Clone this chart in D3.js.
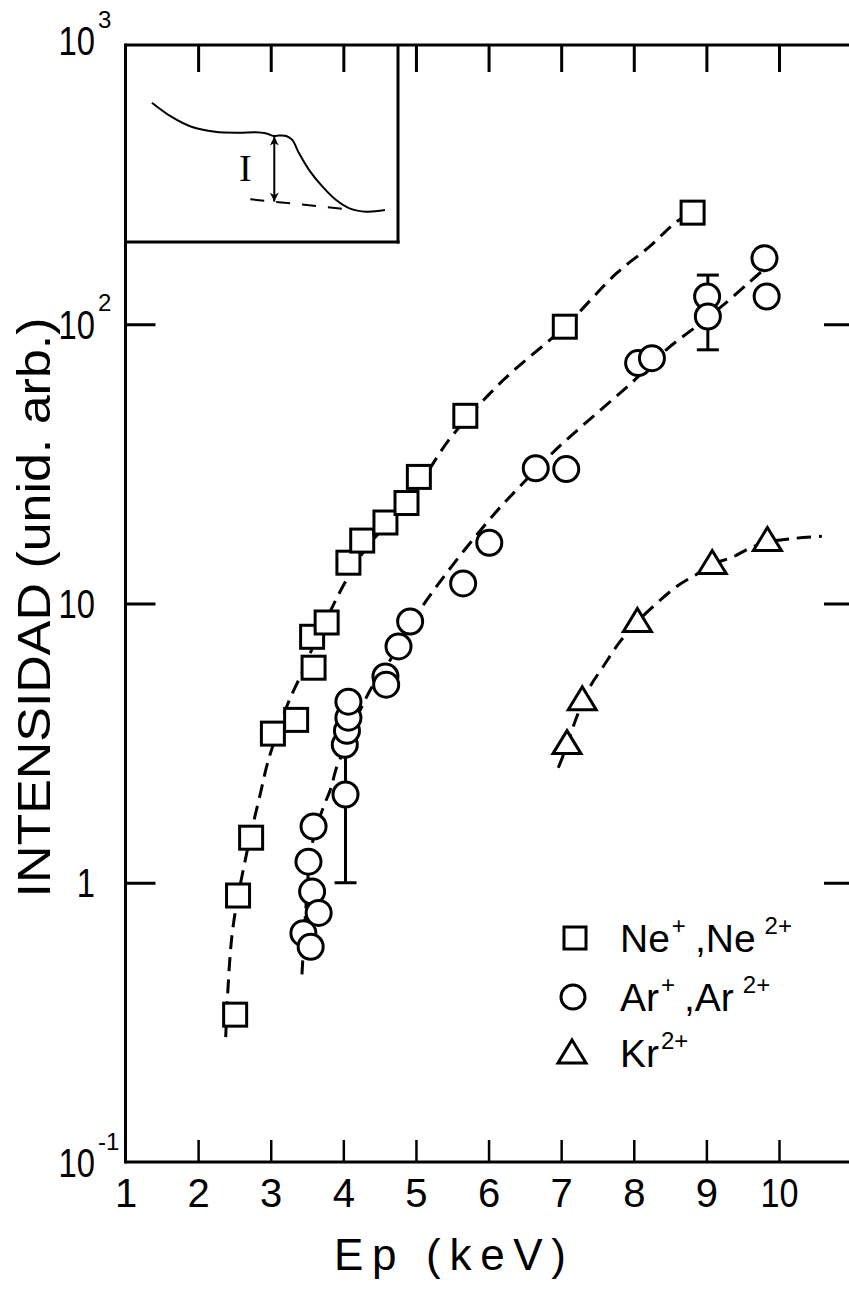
<!DOCTYPE html>
<html><head><meta charset="utf-8">
<script src="https://cdn.jsdelivr.net/npm/d3@7"></script>
<style>body{margin:0;background:#fff}svg{display:block}</style>
</head><body>
<svg id="chart" width="849" height="1294"></svg>
<script>
// ---------- data ----------
const xTickVals = [1, 2, 3, 4, 5, 6, 7, 8, 9, 10];
const xTickLabels = ["1", "2", "3", "4", "5", "6", "7", "8", "9", "10"];
const yTickVals = [0.1, 1, 10, 100, 1000];
const yTickBase = ["10", "1", "10", "10", "10"];
const yTickExp = ["-1", "", "", "2", "3"];

const neX = [2.51, 2.55, 2.73, 3.03, 3.35, 3.57, 3.59, 3.77, 4.07, 4.26, 4.58, 4.87, 5.04, 5.68, 7.05, 8.81];
const neY = [0.337, 0.90, 1.45, 3.42, 3.83, 7.60, 5.89, 8.55, 14.0, 16.8, 19.5, 22.9, 28.4, 47.0, 98, 251];

const arX = [3.45, 3.55, 3.52, 3.57, 3.59, 3.66, 4.03, 4.02, 4.05, 4.07, 4.07, 4.58, 4.59, 4.76, 4.92, 5.65, 6.01, 6.65, 7.07, 8.06, 8.25, 9.01, 9.02, 9.80, 9.83];
const arY = [0.66, 0.59, 1.19, 0.93, 1.59, 0.78, 2.07, 3.12, 3.50, 3.90, 4.45, 5.48, 5.12, 7.02, 8.62, 11.8, 16.5, 30.5, 30.3, 72.6, 75.6, 125.7, 106.6, 172.5, 125.7];
const arErrX = [4.03, 9.02];
const arErrLo = [1.0, 81];
const arErrHi = [3.17, 150];

const krX = [7.08, 7.29, 8.05, 9.08, 9.84];
const krY = [3.15, 4.52, 8.62, 13.9, 16.8];

// dashed guide curves
const neFitX = [2.38, 2.47, 2.67, 2.86, 2.97, 3.24, 3.41, 3.55, 3.75, 4.0, 4.3, 4.7, 5.0, 5.47, 6.2, 7.05, 7.76, 8.22, 8.59, 8.81];
const neFitY = [0.28, 0.66, 1.28, 2.1, 2.76, 4.4, 5.5, 6.7, 8.6, 11.6, 15.6, 20.5, 25.5, 39, 63, 98, 152, 190, 233, 252];
const arFitX = [3.43, 3.48, 3.52, 3.59, 3.73, 3.82, 3.91, 3.98, 4.1, 4.26, 4.39, 4.65, 4.81, 5.15, 5.54, 6.07, 6.34, 6.85, 7.12, 7.49, 7.95, 8.47, 8.89, 9.23, 9.6, 9.85];
const arFitY = [0.47, 0.78, 1.09, 1.45, 1.88, 2.15, 2.6, 2.87, 3.5, 4.3, 5.0, 6.3, 7.6, 10.3, 14.1, 20.8, 24.8, 34, 39.5, 48, 61, 82, 99.5, 117, 142, 162];
const krFitX = [6.96, 7.08, 7.21, 7.40, 7.58, 7.81, 8.05, 8.22, 8.59, 8.86, 9.08, 9.37, 9.6, 9.84, 10.2, 10.59];
const krFitY = [2.58, 3.1, 3.9, 5.05, 5.95, 7.3, 8.6, 9.5, 11.5, 12.7, 13.8, 14.7, 15.8, 16.6, 17.1, 17.4];

// inset schematic (arbitrary 0-100 units)
const insetCurveU = [9.7, 16.8, 24.2, 32.9, 41.5, 47.7, 51.4, 54.4, 56.3, 59.0, 61.2, 63.7, 67.4, 72.3, 77.3, 82.2, 88.4, 95.2];
const insetCurveV = [70.7, 63.6, 58.5, 56.0, 55.5, 55.7, 55.2, 53.8, 54.0, 53.8, 51.8, 45.0, 36.5, 28.1, 21.3, 17.1, 15.4, 16.2];
const insetBaseU = [45.8, 81.6];
const insetBaseV = [21.7, 16.6];
const insetArrowU = [54.6, 54.6];
const insetArrowV = [53.5, 20.5];

const legendLabels = [["Ne", "+", ",Ne", "2+"], ["Ar", "+", ",Ar", "2+"], ["Kr", "2+", "", ""]];

// ---------- layout ----------
const W = 849, H = 1294;
const FONT = "'Liberation Sans',Arial,sans-serif";
const svg = d3.select("#chart");
svg.append("rect").attr("width", W).attr("height", H).attr("fill", "#fff");

const x = d3.scaleLinear().domain([1, 10]).range([125.5, 779]);
const y = d3.scaleLog().domain([0.1, 1000]).range([1162, 45]);

const g = svg.append("g");
const SW = 3;

// axes lines
g.append("line").attr("x1", x(1)).attr("x2", W).attr("y1", y(0.1)).attr("y2", y(0.1))
  .attr("stroke", "#000").attr("stroke-width", SW);
g.append("line").attr("x1", x(1)).attr("x2", W).attr("y1", y(1000)).attr("y2", y(1000))
  .attr("stroke", "#000").attr("stroke-width", SW);
g.append("line").attr("x1", x(1)).attr("x2", x(1)).attr("y1", y(1000) - 1.5).attr("y2", y(0.1) + 1.5)
  .attr("stroke", "#000").attr("stroke-width", SW);

// bottom axis ticks (inward) and labels
const bottomAxis = d3.axisBottom(x).tickValues(xTickVals).tickSizeInner(-22).tickSizeOuter(0)
  .tickPadding(17).tickFormat((d, i) => xTickLabels[i]);
const bg = g.append("g").attr("transform", `translate(0,${y(0.1)})`).call(bottomAxis);
bg.select(".domain").remove();
bg.selectAll(".tick line").attr("stroke", "#000").attr("stroke-width", 2.5)
  .attr("display", d => d === 1 ? "none" : null);
bg.selectAll(".tick text").attr("font-family", FONT).attr("font-size", 40).attr("fill", "#000")
  .attr("transform", "scale(0.88,1)").attr("x", d => x(d) * 0 + 0);
// keep glyphs narrow but centred on their ticks
bg.selectAll(".tick text").attr("transform", null).attr("textLength", d => d === 10 ? 38 : null)
  .attr("lengthAdjust", "spacingAndGlyphs");

// top axis ticks (inward)
const topAxis = d3.axisTop(x).tickValues(xTickVals.slice(1)).tickSizeInner(-27).tickSizeOuter(0).tickFormat("");
const tg = g.append("g").attr("transform", `translate(0,${y(1000)})`).call(topAxis);
tg.select(".domain").remove();
tg.selectAll(".tick line").attr("stroke", "#000").attr("stroke-width", 3);

// left ticks (inward)
const leftAxis = d3.axisLeft(y).tickValues([1, 10, 100]).tickSizeInner(-30).tickSizeOuter(0).tickFormat("");
const lg = g.append("g").attr("transform", `translate(${x(1)},0)`).call(leftAxis);
lg.select(".domain").remove();
lg.selectAll(".tick line").attr("stroke", "#000").attr("stroke-width", 3);

// right ticks (inward, axis line just outside the picture)
const rightAxis = d3.axisRight(y).tickValues([1, 10, 100]).tickSizeInner(-28).tickSizeOuter(0).tickFormat("");
const rg = g.append("g").attr("transform", `translate(${W + 3},0)`).call(rightAxis);
rg.select(".domain").remove();
rg.selectAll(".tick line").attr("stroke", "#000").attr("stroke-width", 3);

// left tick labels with superscripts
yTickVals.forEach((v, i) => {
  const yy = y(v) + (v === 1000 ? -4 : (v === 0.1 ? 1 : 0));
  g.append("text").attr("transform", `translate(95,${yy}) scale(0.82,1)`).attr("dy", "0.36em")
    .attr("text-anchor", "end").attr("font-family", FONT).attr("font-size", 40).attr("fill", "#000")
    .text(yTickBase[i]);
  if (yTickExp[i]) {
    g.append("text").attr("x", 98).attr("y", yy - 13)
      .attr("text-anchor", "start").attr("font-family", FONT).attr("font-size", 24).attr("fill", "#000")
      .text(yTickExp[i]);
  }
});

// axis titles
g.append("text").attr("transform", `translate(50,${(y(100) + y(1)) / 2 + 4}) rotate(-90)`)
  .attr("text-anchor", "middle").attr("font-family", FONT).attr("font-size", 46).attr("fill", "#000")
  .attr("textLength", 580).attr("lengthAdjust", "spacingAndGlyphs")
  .text("INTENSIDAD (unid. arb.)");
g.append("text").attr("x", 450).attr("y", 1270)
  .attr("text-anchor", "middle").attr("font-family", FONT).attr("font-size", 44).attr("fill", "#000")
  .attr("textLength", 232).attr("lengthAdjust", "spacing")
  .text("Ep (keV)");

// ---------- inset ----------
const ix = d3.scaleLinear().domain([0, 100]).range([x(1), 398]);
const iy = d3.scaleLinear().domain([0, 100]).range([242, y(1000)]);
g.append("line").attr("x1", ix(100)).attr("x2", ix(100)).attr("y1", iy(100)).attr("y2", iy(0) + 1.5)
  .attr("stroke", "#000").attr("stroke-width", SW);
g.append("line").attr("x1", ix(0)).attr("x2", ix(100) + 1.5).attr("y1", iy(0)).attr("y2", iy(0))
  .attr("stroke", "#000").attr("stroke-width", SW);
const iline = d3.line().x(d => ix(d[0])).y(d => iy(d[1])).curve(d3.curveCatmullRom);
g.append("path").attr("d", iline(d3.zip(insetCurveU, insetCurveV)))
  .attr("fill", "none").attr("stroke", "#000").attr("stroke-width", 2);
g.append("path").attr("d", d3.line().x(d => ix(d[0])).y(d => iy(d[1]))(d3.zip(insetBaseU, insetBaseV)))
  .attr("fill", "none").attr("stroke", "#000").attr("stroke-width", 2).attr("stroke-dasharray", "14,12");
const defs = svg.append("defs");
defs.append("marker").attr("id", "ah").attr("viewBox", "0 0 10 10").attr("refX", 10).attr("refY", 5)
  .attr("markerWidth", 12).attr("markerHeight", 9).attr("markerUnits", "userSpaceOnUse").attr("orient", "auto-start-reverse")
  .append("path").attr("d", "M0,0 L10,5 L0,10 L3,5 Z").attr("fill", "#000");
g.append("line").attr("x1", ix(insetArrowU[0])).attr("x2", ix(insetArrowU[1]))
  .attr("y1", iy(insetArrowV[0])).attr("y2", iy(insetArrowV[1]))
  .attr("stroke", "#000").attr("stroke-width", 2)
  .attr("marker-start", "url(#ah)").attr("marker-end", "url(#ah)");
g.append("text").attr("x", ix(44)).attr("y", iy(37.6)).attr("dy", "0.35em").attr("text-anchor", "middle")
  .attr("font-family", "'Liberation Serif','DejaVu Serif',serif").attr("font-size", 38).attr("fill", "#000").text("I");

// ---------- guide curves ----------
const cline = d3.line().x(d => x(d[0])).y(d => y(d[1])).curve(d3.curveCatmullRom.alpha(0.5));
[[neFitX, neFitY], [arFitX, arFitY], [krFitX, krFitY]].forEach(([fx, fy]) => {
  g.append("path").attr("d", cline(d3.zip(fx, fy))).attr("fill", "none")
    .attr("stroke", "#000").attr("stroke-width", 3).attr("stroke-dasharray", "14,8");
});

// error bars
arErrX.forEach((ex, i) => {
  const eg = g.append("g").attr("stroke", "#000").attr("stroke-width", 3);
  eg.append("line").attr("x1", x(ex)).attr("x2", x(ex)).attr("y1", y(arErrLo[i])).attr("y2", y(arErrHi[i]));
  [arErrLo[i], arErrHi[i]].forEach(v => eg.append("line").attr("x1", x(ex) - 11).attr("x2", x(ex) + 11)
    .attr("y1", y(v)).attr("y2", y(v)));
});

// ---------- markers ----------
const sqS = 23, cR = 12.5;
const triPath = "M0,-13 L14,10 L-14,10 Z";
g.append("g").selectAll("rect").data(d3.zip(neX, neY)).join("rect")
  .attr("x", d => x(d[0]) - sqS / 2).attr("y", d => y(d[1]) - sqS / 2).attr("width", sqS).attr("height", sqS)
  .attr("fill", "#fff").attr("stroke", "#000").attr("stroke-width", 3);
g.append("g").selectAll("circle").data(d3.zip(arX, arY)).join("circle")
  .attr("cx", d => x(d[0])).attr("cy", d => y(d[1])).attr("r", cR)
  .attr("fill", "#fff").attr("stroke", "#000").attr("stroke-width", 3);
g.append("g").selectAll("path").data(d3.zip(krX, krY)).join("path")
  .attr("transform", d => `translate(${x(d[0])},${y(d[1])})`).attr("d", triPath)
  .attr("fill", "#fff").attr("stroke", "#000").attr("stroke-width", 3).attr("stroke-linejoin", "miter");

// ---------- legend ----------
const legY = [938, 997, 1053];
const legMX = 575, legTX = 620;
const lgG = g.append("g");
lgG.append("rect").attr("x", legMX - 11).attr("y", legY[0] - 11).attr("width", 22).attr("height", 22)
  .attr("fill", "#fff").attr("stroke", "#000").attr("stroke-width", 3);
lgG.append("circle").attr("cx", legMX - 2).attr("cy", legY[1]).attr("r", 12)
  .attr("fill", "#fff").attr("stroke", "#000").attr("stroke-width", 3);
lgG.append("path").attr("transform", `translate(${legMX - 3},${legY[2]})`).attr("d", triPath)
  .attr("fill", "#fff").attr("stroke", "#000").attr("stroke-width", 3);
legendLabels.forEach((parts, i) => {
  const t = lgG.append("text").attr("x", legTX).attr("y", legY[i] + 14)
    .attr("font-family", FONT).attr("font-size", 39).attr("fill", "#000");
  t.append("tspan").text(parts[0]);
  t.append("tspan").attr("font-size", 24).attr("dy", -18).attr("dx", 2).text(parts[1]);
  if (parts[2]) {
    t.append("tspan").attr("dy", 18).attr("dx", 9).text(parts[2]);
    t.append("tspan").attr("font-size", 24).attr("dy", -18).attr("dx", 9).text(parts[3]);
  }
});
</script>
</body></html>
